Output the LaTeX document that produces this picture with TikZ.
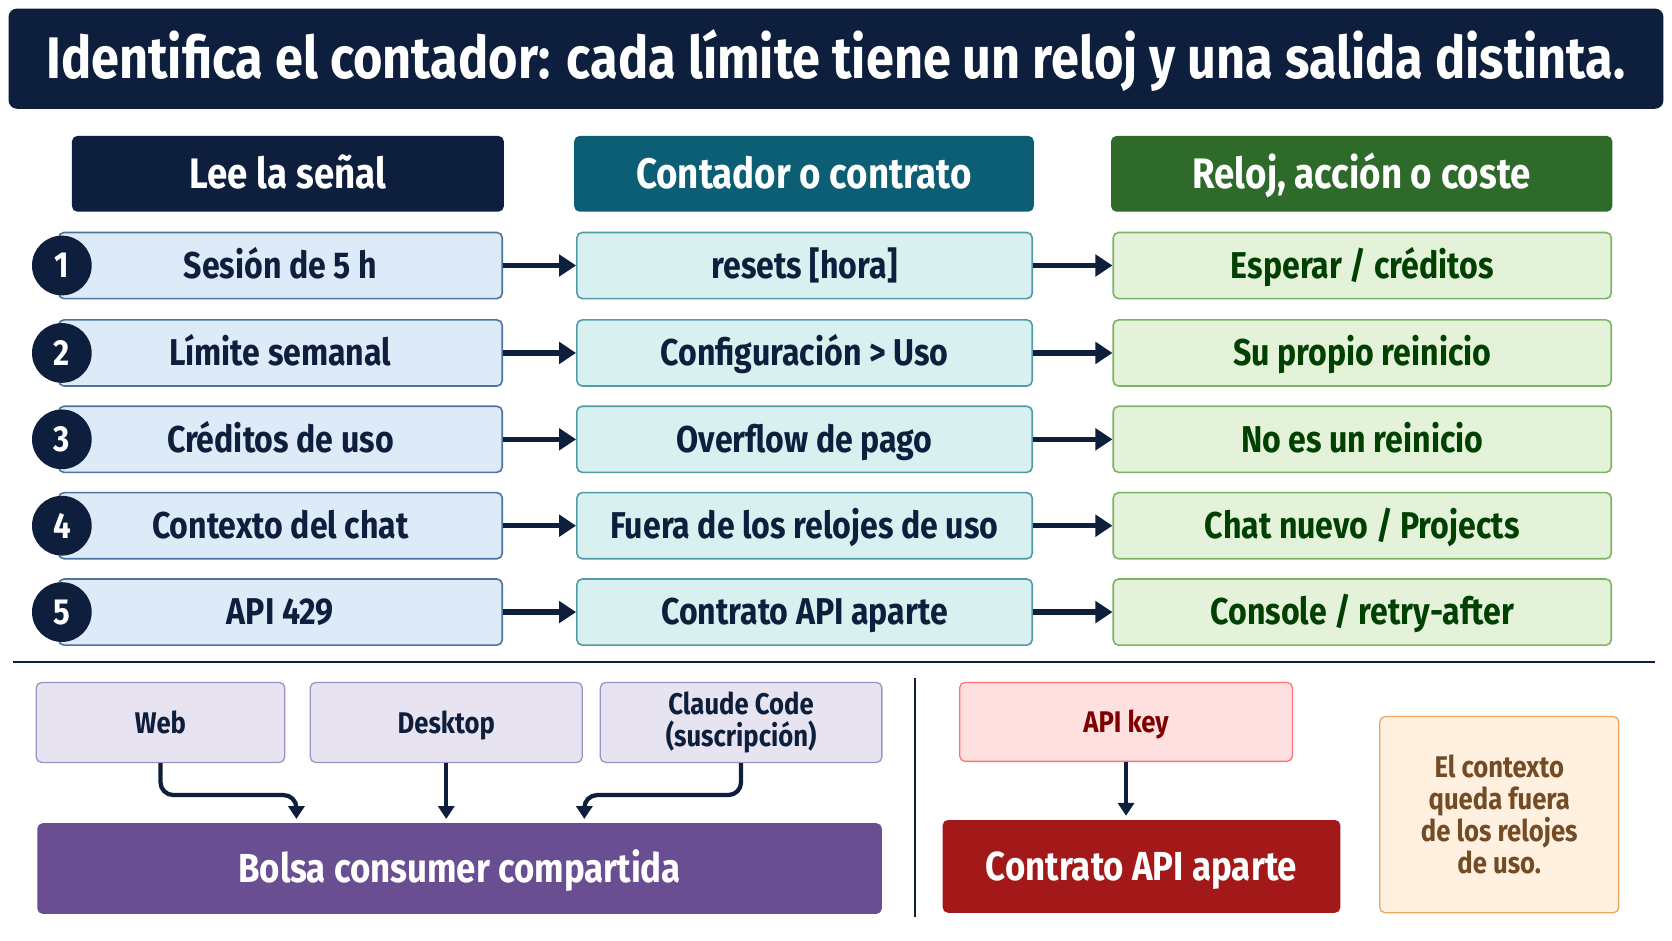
\documentclass[tikz,border=0pt]{standalone}
\usepackage{fontspec}
\setmainfont{Fira Sans}[FakeStretch=0.86]
\usetikzlibrary{arrows.meta}
\definecolor{navy}{HTML}{0D1F3C}
\definecolor{teal1}{HTML}{0B5E73}
\definecolor{green1}{HTML}{2E6B2A}
\definecolor{f1}{HTML}{DDEAF8}\definecolor{d1}{HTML}{4D739F}
\definecolor{f2}{HTML}{D9F0F1}\definecolor{d2}{HTML}{4F9CA8}
\definecolor{f3}{HTML}{E4F2D9}\definecolor{d3}{HTML}{7DB463}
\definecolor{purp}{HTML}{694F92}
\definecolor{lavf}{HTML}{E7E3F0}\definecolor{lavd}{HTML}{9D92C2}
\begin{document}
\begin{tikzpicture}[x=1pt,y=-1pt,
 box/.style={draw,line width=1.5pt,rounded corners=5pt,align=center,inner sep=0pt,font=\fontsize{35}{38}\selectfont\bfseries},
 one/.style={text height=#1,text depth=0pt},
 c1/.style={box,one=24pt,fill=f1,draw=d1,text=navy,minimum width=416,minimum height=62},
 c2/.style={box,one=24pt,fill=f2,draw=d2,text=navy,minimum width=427,minimum height=62},
 c3/.style={box,one=24pt,fill=f3,draw=d3,text=green!25!black,minimum width=467,minimum height=62},
 hd/.style={rounded corners=5pt,text=white,minimum height=71,inner sep=0pt,one=28pt,font=\fontsize{40}{44}\selectfont\bfseries},
 num/.style={circle,fill=navy,text=white,minimum size=56,inner sep=0pt,font=\fontsize{34}{36}\selectfont\bfseries},
 arr/.style={line width=5pt,draw=navy,-{Triangle[length=16pt,width=20pt]}},
 sm/.style={box,line width=1.2pt,font=\fontsize{28}{30}\selectfont\bfseries,minimum height=75},
 darr/.style={line width=4pt,draw=navy,rounded corners=12pt,-{Triangle[length=12pt,width=15pt]}}]
\useasboundingbox (0,0) rectangle (1568,882);
\fill[white] (0,0) rectangle (1568,882);
\node[fill=navy,rounded corners=8pt,minimum width=1552,minimum height=94,inner sep=0pt,text=white,one=38pt,font=\fontsize{55}{58}\selectfont\bfseries] (title) at (784,55) {Identifica el contador: cada límite tiene un reloj y una salida distinta.};
\node[hd,fill=navy,minimum width=405] (h1) at (270,163) {Lee la señal};
\node[hd,fill=teal1,minimum width=431] (h2) at (754,163) {Contador o contrato};
\node[hd,fill=green1,minimum width=470] (h3) at (1277,163) {Reloj, acción o coste};
\foreach \i/\y/\a/\b/\c in {1/249/{Sesión de 5 h}/{resets [hora]}/{Esperar / créditos},
  2/331/{Límite semanal}/{Configuración > Uso}/{Su propio reinicio},
  3/412/{Créditos de uso}/{Overflow de pago}/{No es un reinicio},
  4/493/{Contexto del chat}/{Fuera de los relojes de uso}/{Chat nuevo / Projects},
  5/574/{API 429}/{Contrato API aparte}/{Console / retry-after}}{
  \node[c1] (a\i) at (263,\y) {\a};
  \node[c2] (b\i) at (754.5,\y) {\b};
  \node[c3] (k\i) at (1277.5,\y) {\c};
  \node[num] (n\i) at (58,\y) {\i};
  \draw[arr] (a\i) -- (b\i);
  \draw[arr] (b\i) -- (k\i);
}
\coordinate (s1) at (12,621); \coordinate (s2) at (1552,621);
\draw[line width=1.5pt,navy] (s1) -- (s2);
\coordinate (v1) at (858,636); \coordinate (v2) at (858,860);
\draw[line width=1.2pt,navy] (v1) -- (v2);
\tikzset{lav/.style={sm,fill=lavf,draw=lavd,text=navy}}
\node[lav,one=20pt,minimum width=233] (web) at (150.5,677.5) {Web};
\node[lav,one=20pt,minimum width=255] (desk) at (418.5,677.5) {Desktop};
\node[lav,minimum width=264] (cc) at (695,677.5) {Claude Code\\(suscripción)};
\node[box,one=27pt,fill=purp,draw=none,text=white,minimum width=792,minimum height=85,font=\fontsize{38}{42}\selectfont\bfseries] (bolsa) at (431,814.5) {Bolsa consumer compartida};
\draw[darr] (web.south) -- ++(0,30) -| (278,768);
\draw[darr] (desk.south) -- (418.5,768);
\draw[darr] (cc.south) -- ++(0,30) -| (548,768);
\node[sm,one=20pt,fill=red!12!white,draw=red!55!white,text=red!50!black,minimum width=312,minimum height=74] (key) at (1056,677) {API key};
\node[box,one=27pt,fill=red!60!black!90,draw=none,text=white,minimum width=373,minimum height=87,font=\fontsize{38}{42}\selectfont\bfseries] (capi) at (1070.5,812.5) {Contrato API aparte};
\draw[darr] (key.south) -- (1056,765);
\node[sm,fill=orange!12!white,draw=orange!60!brown!70,text=brown!60!black,minimum width=224,minimum height=184] (ctx) at (1406,764) {El contexto\\queda fuera\\de los relojes\\de uso.};
\end{tikzpicture}
\end{document}
